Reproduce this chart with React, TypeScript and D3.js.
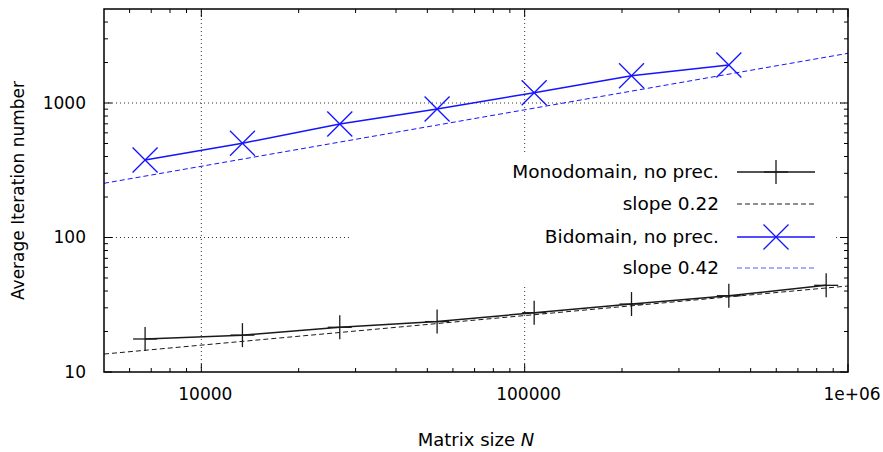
import React from 'react';
import * as d3 from 'd3';

// values
const matrixSizes = [6700, 13400, 26800, 53600, 107000, 214000, 428000, 856000];
const monoIters = [17.6, 18.8, 21.5, 23.7, 27.6, 32.0, 36.9, 44.1];
const biIters = [377, 502, 698, 902, 1193, 1596, 1917];
const fitSizes = [5000, 1e6];
const monoFit = [13.6, 43.6];
const biFit = [253, 2342];
const legendLabels = ['Monodomain, no prec.', 'slope 0.22', 'Bidomain, no prec.', 'slope 0.42'];
const xTickVals = [1e4, 1e5, 1e6];
const yTickVals = [10, 100, 1000];

const W = 883;
const H = 452;
const m = { left: 104, right: 35, top: 9, bottom: 80 };
const FONT = '"DejaVu Sans", sans-serif';
const BLUE = '#1414ff';
const INK = '#1a1a1a';

const App = () => {
  const x = d3.scaleLog().domain([5000, 1e6]).range([m.left, W - m.right]);
  const y = d3.scaleLog().domain([10, 5000]).range([H - m.bottom, m.top]);
  const [x0, x1] = x.range();
  const [y0, y1] = y.range(); // y0 bottom, y1 top

  const line = d3.line<[number, number]>().x(d => x(d[0])).y(d => y(d[1]));

  // minor ticks: 2..9 of every decade inside the domain
  const minor = (dom: number[]) => {
    const out: number[] = [];
    for (let e = 1; e <= 6; e++) {
      for (let k = 2; k <= 9; k++) {
        const v = k * Math.pow(10, e);
        if (v > dom[0] && v < dom[1]) out.push(v);
      }
    }
    return out;
  };
  const xMinor = minor(x.domain());
  const yMinor = minor(y.domain());

  const monoPts = matrixSizes.map((s, i) => [s, monoIters[i]] as [number, number]);
  const biPts = biIters.map((v, i) => [matrixSizes[i], v] as [number, number]);

  const plus = (cx: number, cy: number, r: number, c: string, key: string) => (
    <g key={key} stroke={c} strokeWidth={1.3}>
      <line x1={cx - r} y1={cy} x2={cx + r} y2={cy} />
      <line x1={cx} y1={cy - r} x2={cx} y2={cy + r} />
    </g>
  );
  const cross = (cx: number, cy: number, r: number, c: string, key: string) => (
    <g key={key} stroke={c} strokeWidth={1.3}>
      <line x1={cx - r} y1={cy - r} x2={cx + r} y2={cy + r} />
      <line x1={cx - r} y1={cy + r} x2={cx + r} y2={cy - r} />
    </g>
  );

  const legendY = [172, 204, 237, 268];
  const legTextX = 719;
  const legLine = [737, 815];
  const legMid = (legLine[0] + legLine[1]) / 2;

  return (
    <svg width={W} height={H} style={{ position: 'absolute', left: 0, top: 0, background: '#fff' }}
      fontFamily={FONT} fontSize={17}>
      <rect width={W} height={H} fill="#fff" />

      {/* grid */}
      <g stroke="#333" strokeWidth={1} strokeDasharray="1,3">
        {[1e4, 1e5].map(v => (
          <line key={'gx' + v} x1={x(v)} x2={x(v)} y1={y0} y2={y1} />
        ))}
        {[100, 1000].map(v => (
          <line key={'gy' + v} x1={x0} x2={x1} y1={y(v)} y2={y(v)} />
        ))}
      </g>

      {/* ticks */}
      <g stroke="#000" strokeWidth={1}>
        {xTickVals.map(v => (
          <g key={'xt' + v}>
            <line x1={x(v)} x2={x(v)} y1={y0} y2={y0 - 8} />
            <line x1={x(v)} x2={x(v)} y1={y1} y2={y1 + 8} />
          </g>
        ))}
        {xMinor.map(v => (
          <g key={'xm' + v}>
            <line x1={x(v)} x2={x(v)} y1={y0} y2={y0 - 4} />
            <line x1={x(v)} x2={x(v)} y1={y1} y2={y1 + 4} />
          </g>
        ))}
        {yTickVals.map(v => (
          <g key={'yt' + v}>
            <line x1={x0} x2={x0 + 8} y1={y(v)} y2={y(v)} />
            <line x1={x1} x2={x1 - 8} y1={y(v)} y2={y(v)} />
          </g>
        ))}
        {yMinor.map(v => (
          <g key={'ym' + v}>
            <line x1={x0} x2={x0 + 4} y1={y(v)} y2={y(v)} />
            <line x1={x1} x2={x1 - 4} y1={y(v)} y2={y(v)} />
          </g>
        ))}
      </g>

      {/* tick labels */}
      {xTickVals.map(v => (
        <text key={'xl' + v} x={x(v) + 4} y={y0 + 28} textAnchor="middle" fill="#000">
          {v === 1e6 ? '1e+06' : String(v)}
        </text>
      ))}
      {yTickVals.map(v => (
        <text key={'yl' + v} x={x0 - 18} y={y(v)} dy="0.35em" textAnchor="end" fill="#000">
          {String(v)}
        </text>
      ))}

      {/* axis titles */}
      <text x={(x0 + x1) / 2} y={446} textAnchor="middle" fill="#000" fontSize={18}>
        Matrix size <tspan fontStyle="italic">N</tspan>
      </text>
      <text transform={`translate(24,${(y0 + y1) / 2}) rotate(-90)`} textAnchor="middle" fill="#000">
        Average Iteration number
      </text>

      {/* opaque key box */}
      <rect x={350} y={155} width={485} height={129} fill="#fff" />

      {/* data */}
      <path d={line(monoPts) || ''} fill="none" stroke={INK} strokeWidth={1.5} />
      <path d={line(fitSizes.map((s, i) => [s, monoFit[i]] as [number, number])) || ''}
        fill="none" stroke={INK} strokeWidth={1} strokeDasharray="5,3" />
      {monoPts.map((p, i) => plus(x(p[0]), y(p[1]), 12, INK, 'mp' + i))}

      <path d={line(biPts) || ''} fill="none" stroke={BLUE} strokeWidth={1.5} />
      <path d={line(fitSizes.map((s, i) => [s, biFit[i]] as [number, number])) || ''}
        fill="none" stroke={BLUE} strokeWidth={1} strokeDasharray="5,3" />
      {biPts.map((p, i) => cross(x(p[0]), y(p[1]), 12.5, BLUE, 'bp' + i))}

      {/* frame */}
      <rect x={x0} y={y1} width={x1 - x0} height={y0 - y1} fill="none" stroke="#000" strokeWidth={1.5} />

      {/* key entries */}
      {legendLabels.map((t, i) => (
        <text key={'lg' + i} x={legTextX} y={legendY[i]} dy="0.35em" textAnchor="end" fill="#000" fontSize={18.5}>{t}</text>
      ))}
      <line x1={legLine[0]} x2={legLine[1]} y1={legendY[0]} y2={legendY[0]} stroke={INK} strokeWidth={1.5} />
      {plus(legMid, legendY[0], 12, INK, 'lp')}
      <line x1={legLine[0]} x2={legLine[1]} y1={legendY[1]} y2={legendY[1]} stroke={INK} strokeWidth={1} strokeDasharray="5,3" />
      <line x1={legLine[0]} x2={legLine[1]} y1={legendY[2]} y2={legendY[2]} stroke={BLUE} strokeWidth={1.5} />
      {cross(legMid, legendY[2], 12.5, BLUE, 'lc')}
      <line x1={legLine[0]} x2={legLine[1]} y1={legendY[3]} y2={legendY[3]} stroke="#5a5aff" strokeWidth={1} strokeDasharray="5,3" />
    </svg>
  );
};

export default App;
